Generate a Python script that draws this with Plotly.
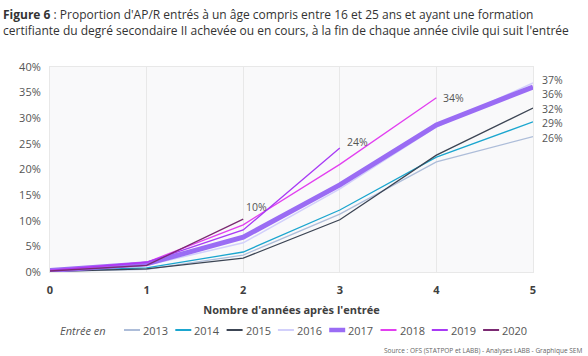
import plotly.graph_objects as go

years_after = [0, 1, 2, 3, 4, 5]
tick_labels = ["0", "1", "2", "3", "4", "5"]
cohorts = ["2013", "2014", "2015", "2016", "2017", "2018", "2019", "2020"]

v2013 = [0.1, 0.5, 3.3, 11.3, 21.5, 26.4]
v2014 = [0.2, 0.8, 3.9, 12.1, 22.4, 29.3]
v2015 = [0.1, 0.6, 2.7, 10.2, 22.8, 32.0]
v2016 = [0.2, 1.3, 5.7, 16.2, 28.3, 36.9]
v2017 = [0.3, 1.6, 6.8, 17.0, 28.7, 36.1]
v2018 = [0.3, 1.9, 9.2, 21.0, 34.0]
v2019 = [0.3, 1.9, 8.2, 24.2]
v2020 = [0.2, 1.3, 10.3]

series = [v2013, v2014, v2015, v2016, v2017, v2018, v2019, v2020]
colors = ["#adbdd9", "#1ba6cf", "#3c4554", "#d2d0fb", "#9a6cf4",
          "#e23ff0", "#a83af5", "#7b2a72"]
widths = [1.3, 1.3, 1.3, 1.5, 5, 1.3, 1.3, 1.3]

# end-label vertical pixel shifts (to avoid overlaps, as in the original)
end_label_shift = {0: -1, 1: -1.5, 2: -1, 3: 3, 4: -7, 5: 0, 6: 6, 7: 12}

FONT = "Open Sans"
TXT = "#555555"

fig = go.Figure()
for name, vals, col, w in zip(cohorts, series, colors, widths):
    fig.add_trace(go.Scatter(
        x=years_after[:len(vals)], y=vals, mode="lines", name=name,
        line=dict(color=col, width=w), showlegend=False,
        hoverinfo="skip"))

annotations = []
for i, vals in enumerate(series):
    xi = years_after[len(vals) - 1]
    yi = vals[-1]
    xs = 8 if i < 5 else 6
    annotations.append(dict(
        x=xi, y=yi, xref="x", yref="y", text=f"{round(yi):.0f}%",
        showarrow=False, xanchor="left", yanchor="middle", borderpad=0,
        xshift=xs if i != 7 else 2, yshift=end_label_shift[i],
        font=dict(family=FONT, size=10.5, color=TXT)))


def px2x(px):
    return (px - 50) / 483.0


def py2y(py):
    return (272 - py) / 205.0


# title (two lines, top-left)
annotations.append(dict(
    x=px2x(1), y=py2y(4), xref="paper", yref="paper",
    text="<b>Figure 6</b> : Proportion d'AP/R entrés à un âge compris entre 16 et 25 ans et ayant une formation<br>"
         "certifiante du degré secondaire II achevée ou en cours, à la fin de chaque année civile qui suit l'entrée",
    showarrow=False, xanchor="left", yanchor="top", align="left",
    font=dict(family=FONT, size=12, color="#333333")))

leg_y = py2y(330)
annotations.append(dict(x=px2x(108), y=leg_y, xref="paper", yref="paper",
                        text="<i>Entrée en</i>", showarrow=False,
                        xanchor="right", yanchor="middle",
                        font=dict(family=FONT, size=11, color=TXT)))
shapes = []
start = 124
step = 51.3
for i, (name, col, w) in enumerate(zip(cohorts, colors, widths)):
    x0 = start + i * step
    shapes.append(dict(type="line", xref="paper", yref="paper",
                       x0=px2x(x0), x1=px2x(x0 + 16), y0=leg_y, y1=leg_y,
                       line=dict(color=col, width=2 if w < 3 else 4.5)))
    annotations.append(dict(x=px2x(x0 + 17), y=leg_y, xref="paper", yref="paper",
                            text=name, showarrow=False, xanchor="left",
                            yanchor="middle",
                            font=dict(family=FONT, size=11, color=TXT)))

annotations.append(dict(x=px2x(584), y=py2y(350), xref="paper", yref="paper",
                        text="Source : OFS (STATPOP et LABB) - Analyses LABB - Graphique SEM",
                        showarrow=False, xanchor="right", yanchor="middle",
                        font=dict(family=FONT, size=6.5, color="#666666")))

fig.update_layout(
    width=588, height=356,
    margin=dict(l=50, r=55, t=67, b=84),
    paper_bgcolor="white", plot_bgcolor="#f9f9fa",
    font=dict(family=FONT, color=TXT),
    annotations=annotations, shapes=shapes,
)
fig.update_xaxes(range=[0, 5], tickvals=years_after, ticktext=tick_labels,
                 showgrid=True, gridcolor="#e8e8e8", gridwidth=1,
                 showline=True, linecolor="#e8e8e8", mirror=True,
                 zeroline=False, ticks="", ticklabelstandoff=8,
                 tickfont=dict(family=FONT, size=11, color="#404040", weight="bold"),
                 title=dict(text="<b>Nombre d'années après l'entrée</b>", standoff=10,
                            font=dict(family=FONT, size=11, color="#404040")))
fig.update_yaxes(range=[0, 40], dtick=5, ticksuffix="%", showgrid=False,
                 showline=True, linecolor="#e8e8e8", mirror=True,
                 zeroline=False, ticks="", ticklabelstandoff=6,
                 tickfont=dict(family=FONT, size=11, color=TXT))

fig.write_html("out.html", config={"displayModeBar": False},
               post_script="document.body.style.margin='0';document.body.style.padding='0';")
